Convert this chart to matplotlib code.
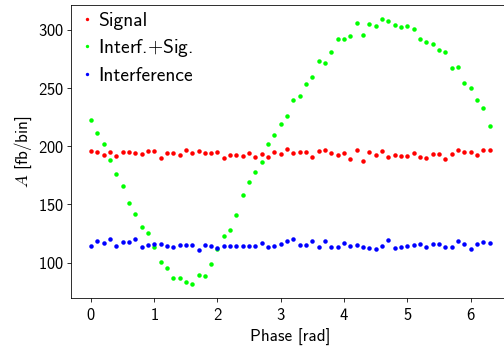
import matplotlib
matplotlib.use("Agg")
import matplotlib.pyplot as plt
import numpy as np

plt.rcParams['font.family'] = ['cmss10', 'DejaVu Sans']
plt.rcParams['mathtext.fontset'] = 'cm'
plt.rcParams['axes.formatter.use_mathtext'] = True
plt.rcParams['axes.unicode_minus'] = False

# phase grid, 0.1 rad steps
phase = np.arange(64) * 0.1

signal = [196.3, 195.2, 192.6, 194.9, 191.5, 194.9, 194.9, 194.0, 193.2, 195.8,
          195.8, 190.0, 194.6, 194.0, 192.3, 196.9, 194.3, 195.8, 194.0, 194.0,
          195.2, 189.7, 192.6, 192.8, 192.0, 194.6, 190.6, 193.2, 190.6, 194.9,
          193.7, 197.7, 194.0, 195.2, 194.9, 191.1, 196.3, 197.2, 194.3, 192.3,
          194.0, 189.4, 196.9, 187.4, 194.9, 192.8, 195.8, 191.1, 192.6, 192.0,
          191.7, 194.6, 190.6, 190.0, 193.7, 193.2, 189.4, 193.4, 197.2, 195.2,
          194.9, 192.8, 196.6, 196.9]

interf_sig = [222.6, 211.4, 201.7, 188.0, 176.3, 166.0, 151.2, 142.0, 130.6, 125.5,
              113.1, 100.3, 95.7, 86.9, 87.1, 83.1, 81.7, 89.4, 88.0, 98.9,
              111.7, 122.6, 128.0, 140.9, 158.0, 169.7, 178.0, 186.3, 201.7, 209.5,
              219.4, 226.0, 239.7, 243.2, 253.5, 260.0, 273.4, 272.0, 281.1, 292.6,
              292.6, 294.6, 306.3, 296.0, 305.4, 303.4, 309.4, 307.5, 304.0, 302.6,
              303.2, 301.2, 292.3, 289.5, 288.0, 283.2, 280.9, 267.0, 267.8, 254.3,
              250.3, 239.7, 232.6, 217.4]

interference = [114.6, 118.6, 116.6, 120.6, 114.6, 117.7, 117.7, 120.0, 113.5, 114.8,
                116.3, 115.7, 114.6, 113.1, 115.4, 114.8, 114.8, 110.9, 115.4, 114.6,
                112.9, 114.6, 114.3, 114.3, 114.3, 114.6, 114.3, 116.9, 113.5, 114.3,
                116.0, 118.3, 120.6, 115.4, 115.2, 118.3, 113.7, 118.3, 113.5, 113.1,
                117.1, 114.3, 115.2, 113.5, 112.9, 112.0, 114.3, 119.5, 112.6, 113.7,
                114.3, 115.2, 116.0, 113.5, 116.0, 116.0, 113.7, 113.5, 118.6, 116.3,
                112.0, 116.0, 118.0, 116.6]

fig = plt.figure(figsize=(7, 349/72.), dpi=72)
ax = fig.add_axes([0.1409, 0.1461, 0.870, 0.8396])

ax.plot(phase, signal, 'o', color='#ff0000', ms=4.5, mew=0, label='Signal')
ax.plot(phase, interf_sig, 'o', color='#00ff00', ms=4.5, mew=0, label='Interf.$+$Sig.')
ax.plot(phase, interference, 'o', color='#0000ff', ms=4.5, mew=0, label='Interference')

ax.set_xlim(-0.315, 6.615)
ax.set_ylim(69.5, 321.5)
ax.set_xticks([0, 1, 2, 3, 4, 5, 6])
ax.set_yticks([100, 150, 200, 250, 300])
ax.tick_params(direction='out', length=4, labelsize=16.5)
ax.tick_params(axis='x', pad=5)
ax.set_xlabel("Phase [rad]", fontsize=17, labelpad=6)
ax.set_ylabel("$A$ [fb/bin]", fontsize=17)

leg = ax.legend(loc='upper left', bbox_to_anchor=(0.0143, 0.99), frameon=False,
                fontsize=19.5, handlelength=0.6, handletextpad=0.25,
                borderaxespad=0, borderpad=0.2, labelspacing=0.38,
                markerscale=0.75)

fig.savefig("out.png", dpi=72)
